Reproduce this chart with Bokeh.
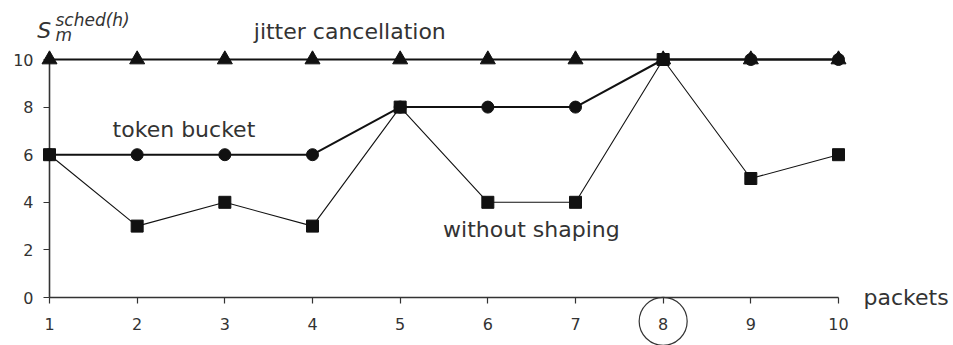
from bokeh.plotting import figure
from bokeh.models import Range1d, FixedTicker
from bokeh.core.properties import value
from bokeh.embed import file_html
from bokeh.resources import INLINE

# ---- data ----
packets = [1, 2, 3, 4, 5, 6, 7, 8, 9, 10]
jitter_cancellation = [10, 10, 10, 10, 10, 10, 10, 10, 10, 10]
token_bucket = [6, 6, 6, 6, 8, 8, 8, 10, 10, 10]
without_shaping = [6, 3, 4, 3, 8, 4, 4, 10, 5, 6]
y_ticks = [0, 2, 4, 6, 8, 10]
highlighted_packet = [8]

FONT = "DejaVu Sans"
INK = "#111111"
GREY = "#333333"

p = figure(width=953, height=345, output_backend="svg", toolbar_location=None,
           x_range=Range1d(1, 10), y_range=Range1d(0, 10),
           min_border_left=49, min_border_right=115,
           min_border_top=59, min_border_bottom=48)
p.outline_line_color = None
p.grid.visible = False
p.background_fill_color = "white"
p.border_fill_color = "white"

for ax in (p.xaxis[0], p.yaxis[0]):
    ax.axis_line_color = GREY
    ax.axis_line_width = 1.6
    ax.major_tick_line_color = GREY
    ax.major_tick_line_width = 1.2
    ax.major_tick_in = 0
    ax.major_tick_out = 6
    ax.minor_tick_line_color = None
    ax.major_label_text_font = FONT
    ax.major_label_text_font_size = "16px"
    ax.major_label_text_color = GREY

p.xaxis[0].ticker = FixedTicker(ticks=packets)
p.xaxis[0].major_label_standoff = 14
p.yaxis[0].ticker = FixedTicker(ticks=y_ticks)
p.yaxis[0].major_label_standoff = 10

renderers = []
renderers.append(p.line(packets, jitter_cancellation, line_color=INK, line_width=2))
renderers.append(p.line(packets, token_bucket, line_color=INK, line_width=2))
renderers.append(p.line(packets, without_shaping, line_color=INK, line_width=1.1))
renderers.append(p.scatter(packets, jitter_cancellation, marker="triangle", size=15,
                           fill_color=INK, line_color=INK))
renderers.append(p.scatter(packets, token_bucket, marker="circle", size=12,
                           fill_color=INK, line_color=INK))
renderers.append(p.scatter(packets, without_shaping, marker="square", size=12,
                           fill_color=INK, line_color=INK))
# circle highlighting packet 8 on the axis
renderers.append(p.scatter(highlighted_packet, [-1.0], marker="circle", size=48,
                           fill_color=None, line_color=GREY, line_width=1.2))

def add_text(x, y, text, size, style="normal"):
    renderers.append(p.text(x=[x], y=[y], text=[text], text_font=value(FONT),
                            text_font_size=value(size), text_font_style=style,
                            text_color=GREY, text_baseline="alphabetic",
                            text_align="left"))

add_text(3.33, 11.18, "jitter cancellation", "22px")
add_text(1.72, 7.06, "token bucket", "22px")
add_text(5.49, 2.86, "without shaping", "22px")
add_text(10.285, 0.0, "packets", "22px")
add_text(0.86, 11.22, "S", "22px", "italic")
add_text(1.068, 11.05, "m", "17px", "italic")
add_text(1.068, 11.64, "sched(h)", "17px", "italic")

for r in renderers:
    r.level = "overlay"

open("out.html", "w").write(file_html(p, INLINE))
